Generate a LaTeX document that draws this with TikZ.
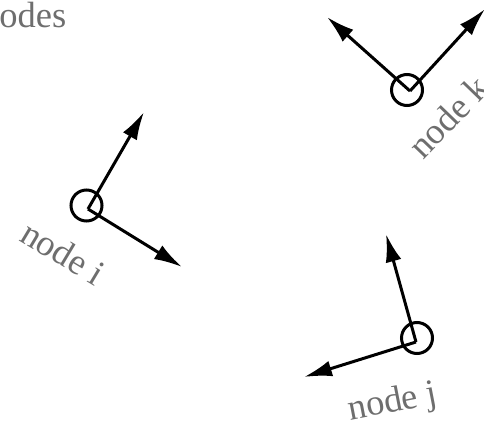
\documentclass[tikz,border=0pt]{standalone}
\usepackage{fontspec}
\setmainfont{Liberation Serif}
\usetikzlibrary{arrows.meta}
\definecolor{labelgray}{RGB}{110,110,110}
\tikzset{
  ring/.style={circle,draw=black,line width=3pt,minimum size=31pt,inner sep=0pt},
  vec/.style={line width=3pt,-{Latex[length=28pt,width=16pt]}},
  lbl/.style={text=labelgray,font=\fontsize{36.5}{42}\selectfont,inner sep=0pt,anchor=base west}
}
\begin{document}
\begin{tikzpicture}[x=1pt,y=-1pt]
\useasboundingbox (0,0) rectangle (484,425);
% title
\node[lbl] (title) at (-19,28) {nodes};
% node i
\node[ring] (ci) at (86.5,205.5) {};
\coordinate (oi) at (88,209);
\coordinate (ti1) at (144,112);
\coordinate (ti2) at (182,267);
\draw[vec] (oi) -- (ti1);
\draw[vec] (oi) -- (ti2);
\node[lbl,rotate=-31] (li) at (18,240) {node i};
% node k
\node[ring] (ck) at (407,90) {};
\coordinate (ok) at (410,91);
\coordinate (tk1) at (327,17);
\coordinate (tk2) at (485,9);
\draw[vec] (ok) -- (tk1);
\draw[vec] (ok) -- (tk2);
\node[lbl,rotate=46] (lk) at (423,161) {node k};
% node j
\node[ring] (cj) at (417,338) {};
\coordinate (oj) at (416,342);
\coordinate (tj1) at (386,234);
\coordinate (tj2) at (304,377);
\draw[vec] (oj) -- (tj1);
\draw[vec] (oj) -- (tj2);
\node[lbl,rotate=11] (lj) at (350,420.5) {node j};
\end{tikzpicture}
\end{document}
